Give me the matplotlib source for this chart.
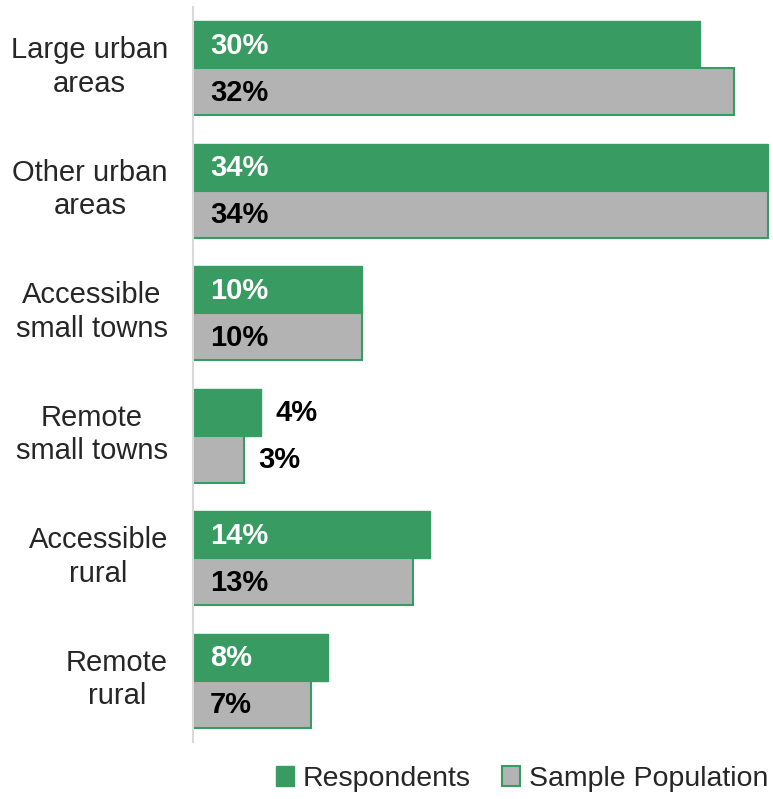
import numpy as np
import matplotlib.pyplot as plt
import matplotlib.transforms as mtransforms
from matplotlib.patches import Patch

plt.rcParams['font.family'] = ['Liberation Sans', 'DejaVu Sans']

# urban/rural classification of respondents vs sample
categories = ['Large urban\nareas', 'Other urban\nareas', 'Accessible\nsmall towns',
              'Remote\nsmall towns', 'Accessible\nrural', 'Remote\nrural']
respondents = [30, 34, 10, 4, 14, 8]
sample_pop = [32, 34, 10, 3, 13, 7]

green = '#379b62'
grey = '#b3b3b3'

fig = plt.figure(figsize=(7.73, 7.99), dpi=100)
ax = fig.add_axes([193 / 773, 1 - 742 / 799, 1 - 193 / 773, 735 / 799])

y = np.arange(len(categories))
h = 0.385
ax.barh(y - h / 2, respondents, height=h, color=green, edgecolor=green, linewidth=1)
ax.barh(y + h / 2, sample_pop, height=h, color=grey, edgecolor=green, linewidth=1.5)

ax.set_xlim(0, 34.3)
ax.set_ylim(5.5, -0.5)

# value labels: inside the bar, or just past its end when it is too short
for i in range(len(categories)):
    for v, off, col in [(respondents[i], -h / 2, 'white'), (sample_pop[i], h / 2, 'black')]:
        if v >= 6:
            ax.annotate(f'{v}%', (0, i + off), xytext=(17, -1), textcoords='offset pixels',
                        ha='left', va='center', fontsize=21, fontweight='bold', color=col)
        else:
            ax.annotate(f'{v}%', (v, i + off), xytext=(15, -1), textcoords='offset pixels',
                        ha='left', va='center', fontsize=21, fontweight='bold', color='black')

ax.set_yticks(y)
ax.set_yticklabels(categories, fontsize=21, color='#262626', multialignment='center',
                   linespacing=1.25)
ax.tick_params(axis='y', length=0, pad=18)
# lift category labels slightly above the group centre
lift = mtransforms.ScaledTranslation(0, 5 / 72, fig.dpi_scale_trans)
for lbl in ax.get_yticklabels():
    lbl.set_transform(lbl.get_transform() + lift)
ax.set_xticks([])
for s in ['top', 'right', 'bottom']:
    ax.spines[s].set_visible(False)
ax.spines['left'].set_color('#d9d9d9')
ax.spines['left'].set_linewidth(1.5)

handles = [Patch(facecolor=green, edgecolor=green, label='Respondents'),
           Patch(facecolor=grey, edgecolor=green, linewidth=1.5, label='Sample Population')]
fig.legend(handles=handles, loc='center', bbox_to_anchor=(522 / 773, 1 - 779 / 799),
           ncol=2, frameon=False, fontsize=20.5, handlelength=0.65, handleheight=0.65,
           handletextpad=0.3, columnspacing=1.1, labelcolor='#262626')

fig.savefig('out.png', dpi=100)
plt.close()
